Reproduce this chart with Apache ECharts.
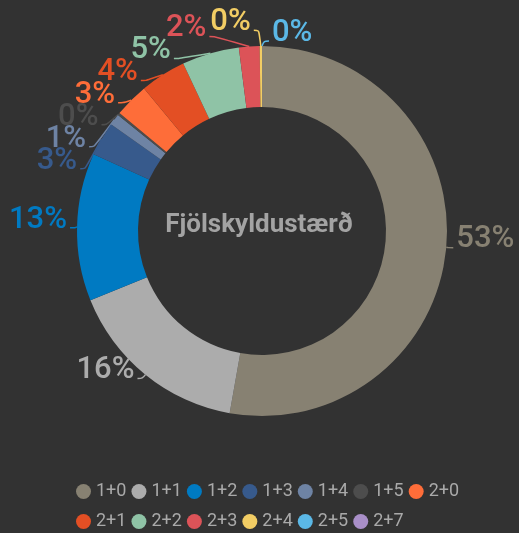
<!DOCTYPE html>
<html>
<head>
<meta charset="utf-8">
<script src="https://cdn.jsdelivr.net/npm/echarts@6/dist/echarts.min.js"></script>
<style>
  html, body { margin: 0; padding: 0; background: #323232; }
  #box { width: 519px; height: 533px; }
</style>
</head>
<body>
<div id="box"></div>
<script>
// fjölskyldustærð: fullorðnir + börn
const categories = ["1+0", "1+1", "1+2", "1+3", "1+4", "1+5", "2+0", "2+1", "2+2", "2+3", "2+4", "2+5", "2+7"];
const values = [52.8, 16.1, 12.9, 3.0, 1.0, 0.2, 3.0, 4.0, 5.0, 1.8, 0.2, 0, null];
const colors = ["#878172", "#acacac", "#007ac2", "#375a8c", "#6e83a4", "#4d4d4d", "#fe6d39",
  "#e34f24", "#8fc3a6", "#dc5358", "#f2cd64", "#5bb8e6", "#a98fc8"];
const title = "Fjölskyldustærð";

// pie geometry
const cx = 262, cy = 231, outerR = 185, innerR = 124;
const lineLen = 5, lineLen2 = 5, labelH = 22, textShift = -8;
const viewTop = 24, viewH = 533;
const labelFont = "500 31px Roboto";

const total = values.reduce((a, b) => a + (b || 0), 0);
const pctText = (v) => Math.round((v / total) * 100) + "%";

const measureCtx = document.createElement("canvas").getContext("2d");
measureCtx.font = labelFont;

// old-style label stacking: shift in y, then slide x along the circle
function adjustSide(list, dir) {
  list.sort((a, b) => a.y - b.y);
  const len = list.length;
  function shiftDown(start, end, delta) {
    for (let j = start; j < end; j++) {
      if (list[j].y + delta > viewH) break;
      list[j].y += delta;
      if (j > start && j + 1 < end && list[j + 1].y > list[j].y + list[j].height) {
        shiftUp(j, delta / 2);
        return;
      }
    }
    shiftUp(end - 1, delta / 2);
  }
  function shiftUp(end, delta) {
    for (let j = end; j >= 0; j--) {
      if (list[j].y - delta < viewTop) break;
      list[j].y -= delta;
      if (j > 0 && list[j].y > list[j - 1].y + list[j - 1].height) break;
    }
  }
  function changeX(sub, isDown) {
    let lastBase = isDown ? Number.MAX_VALUE : 0;
    let prev = null;
    sub.forEach((it) => {
      const dy = Math.abs(it.y - cy);
      const rr = outerR + it.len + it.len2;
      let dX = dy < outerR + it.len ? Math.sqrt(rr * rr - dy * dy) : Math.abs(it.x - cx);
      if (isDown && dX >= lastBase) dX = lastBase - 10;
      if (!isDown && dX <= lastBase) dX = lastBase + 10;
      lastBase = dX;
      // labels still sharing a row sit side by side
      if (prev && Math.abs(it.y - prev.y) < it.height) {
        dX = Math.max(dX, prev.dX + prev.width + 4);
      }
      it.dX = dX;
      it.x = cx + dX * dir;
      prev = it;
    });
  }
  let lastY = 0;
  for (let i = 0; i < len; i++) {
    const delta = list[i].y - lastY;
    if (delta < 0) shiftDown(i, len, -delta);
    lastY = list[i].y + list[i].height;
  }
  if (viewH - lastY < 0) shiftUp(len - 1, lastY - viewH);
  changeX(list.filter((it) => it.y < cy), false);
  changeX(list.filter((it) => it.y >= cy), true);
}

function computeLabels() {
  let angle = -Math.PI / 2;
  const list = [];
  values.forEach((v, i) => {
    if (v == null) return;
    const a = (v / total) * Math.PI * 2;
    const mid = angle + a / 2;
    angle += a;
    const dx = Math.cos(mid), dy = Math.sin(mid);
    const x1 = cx + outerR * dx, y1 = cy + outerR * dy;
    const x2 = x1 + dx * lineLen, y2 = y1 + dy * lineLen;
    const side = dx < -1e-9 ? -1 : 1;
    const x3 = x2 + side * lineLen2;
    list.push({
      index: i, side, x: x3 + side * 5, y: y2, height: labelH,
      width: measureCtx.measureText(pctText(v)).width,
      len: lineLen, len2: lineLen2,
      points: [[x1, y1], [x2, y2], [x3, y2]],
    });
  });
  adjustSide(list.filter((it) => it.side > 0), 1);
  adjustSide(list.filter((it) => it.side < 0), -1);
  const byIndex = {};
  list.forEach((it) => {
    const p = it.points;
    const dist = p[1][0] - p[2][0];
    p[2][0] = it.x - it.side * 3;
    p[1][1] = p[2][1] = it.y;
    p[1][0] = p[2][0] + dist;
    byIndex[it.index] = it;
  });
  return byIndex;
}
const labelPos = computeLabels();

let chart = echarts.init(document.getElementById("box"));

let option = {
  backgroundColor: "#323232",
  color: colors,
  title: {
    text: title,
    left: 254,
    top: 220,
    textAlign: "center",
    textVerticalAlign: "middle",
    textStyle: {
      color: "#a3a3a3",
      fontFamily: "Roboto",
      fontSize: 26,
      fontWeight: "bold",
    },
  },
  legend: {
    data: categories,
    left: 71,
    top: 474,
    width: 420,
    icon: "circle",
    itemWidth: 15,
    itemHeight: 15,
    itemGap: 5,
    textStyle: {
      color: "#a9a9a9",
      fontFamily: "Roboto",
      fontSize: 18,
      lineHeight: 25,
    },
  },
  series: [
    {
      type: "pie",
      center: [cx, cy],
      radius: [innerR, outerR],
      startAngle: 90,
      clockwise: true,
      avoidLabelOverlap: false,
      label: {
        show: true,
        color: "inherit",
        fontFamily: "Roboto",
        fontSize: 31,
        fontWeight: 500,
        overflow: "none",
        formatter: (p) => pctText(p.value),
      },
      labelLine: {
        length: lineLen,
        length2: lineLen2,
        smooth: true,
        lineStyle: { width: 1.5 },
      },
      labelLayout: (params) => {
        const it = labelPos[params.dataIndex];
        if (!it) return {};
        return {
          x: it.x,
          y: it.y + textShift,
          align: it.side > 0 ? "left" : "right",
          verticalAlign: "middle",
          labelLinePoints: it.points,
        };
      },
      data: categories.map((c, i) => ({ name: c, value: values[i] == null ? "-" : values[i] })),
    },
  ],
};
chart.setOption(option);
</script>
</body>
</html>
